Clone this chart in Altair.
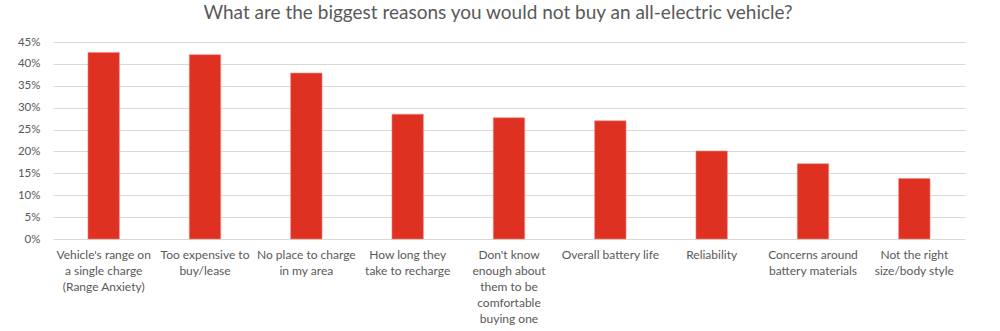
import altair as alt
import pandas as pd

categories = [
    "Vehicle's range on|a single charge|(Range Anxiety)",
    "Too expensive to|buy/lease",
    "No place to charge|in my area",
    "How long they|take to recharge",
    "Don't know|enough about|them to be|comfortable|buying one",
    "Overall battery life",
    "Reliability",
    "Concerns around|battery materials",
    "Not the right|size/body style",
]
values = [0.426, 0.421, 0.379, 0.285, 0.277, 0.270, 0.201, 0.172, 0.138]
y_ticks = [0, 0.05, 0.10, 0.15, 0.20, 0.25, 0.30, 0.35, 0.40, 0.45]

df = pd.DataFrame({"reason": categories, "share": values})

FONT = "Lato"
GRAY = "#595959"

bars = alt.Chart(df).mark_bar(color="#DE3121", stroke="#F08A80", strokeWidth=0.6).encode(
    x=alt.X(
        "reason:N",
        sort=categories,
        scale=alt.Scale(paddingInner=0.69, paddingOuter=0.345),
        axis=alt.Axis(
            title=None,
            labelAngle=0,
            labelExpr="split(datum.label, '|')",
            labelFont=FONT,
            labelFontSize=12,
            labelColor=GRAY,
            labelLineHeight=16,
            labelPadding=10,
            labelBaseline="top",
            ticks=False,
            domain=False,
            grid=False,
            labelLimit=200,
        ),
    ),
    y=alt.Y(
        "share:Q",
        scale=alt.Scale(domain=[0, 0.45], nice=False),
        axis=alt.Axis(
            title=None,
            values=y_ticks,
            format=".0%",
            labelFont=FONT,
            labelFontSize=11.5,
            labelColor=GRAY,
            labelPadding=13,
            ticks=False,
            domain=False,
            gridColor="#D9D9D9",
            gridWidth=1,
        ),
    ),
)

chart = bars.properties(
    width=912,
    height=197,
    background="white",
    autosize=alt.AutoSizeParams(type="none"),
    padding={"left": 53, "top": 42, "right": 35, "bottom": 92},
    title=alt.TitleParams(
        "What are the biggest reasons you would not buy an all-electric vehicle?",
        font=FONT,
        fontSize=19,
        fontWeight="normal",
        color=GRAY,
        anchor="middle",
        offset=13,
        dx=-11,
    ),
).configure_view(stroke=None, strokeWidth=0)

chart.save("out.html", embed_options={"renderer": "svg", "actions": False})
